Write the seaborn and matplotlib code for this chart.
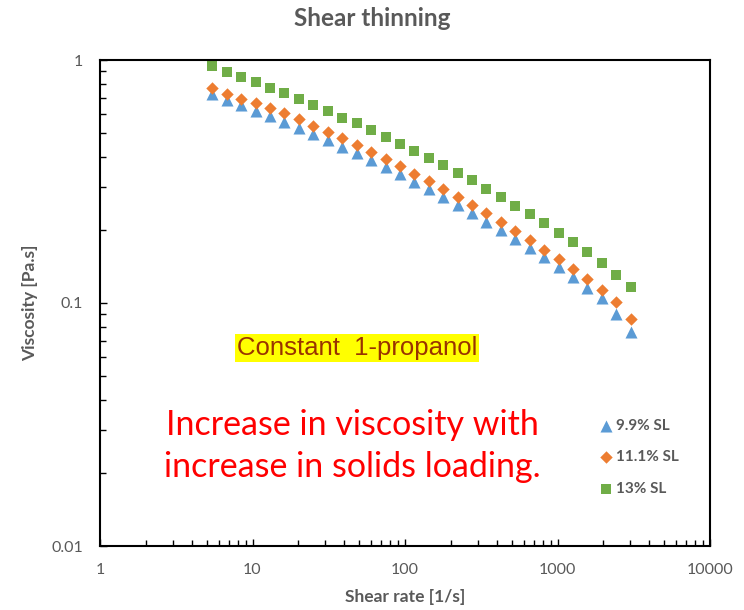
import numpy as np
import pandas as pd
import matplotlib
matplotlib.use("Agg")
import matplotlib.pyplot as plt
import seaborn as sns
from matplotlib.ticker import LogLocator, FixedLocator, NullFormatter

shear_rate = [5.46, 6.79, 8.44, 10.5, 13.0, 16.2, 20.1, 25.1, 31.2, 38.7,
              48.2, 59.8, 74.5, 92.5, 115, 143, 178, 221, 275, 342,
              425, 528, 657, 817, 1016, 1262, 1570, 1950, 2427, 3020]
visc_99 = [0.722, 0.684, 0.653, 0.617, 0.588, 0.557, 0.526, 0.494, 0.469, 0.440,
           0.413, 0.388, 0.364, 0.340, 0.316, 0.294, 0.272, 0.252, 0.234, 0.216,
           0.199, 0.183, 0.168, 0.154, 0.1406, 0.128, 0.1156, 0.1045, 0.0901, 0.0762]
visc_111 = [0.769, 0.727, 0.693, 0.663, 0.633, 0.604, 0.570, 0.535, 0.507, 0.476,
            0.446, 0.419, 0.393, 0.366, 0.340, 0.318, 0.295, 0.274, 0.253, 0.234,
            0.215, 0.198, 0.181, 0.166, 0.152, 0.138, 0.125, 0.1134, 0.101, 0.0862]
visc_13 = [0.945, 0.892, 0.854, 0.810, 0.765, 0.732, 0.693, 0.651, 0.617, 0.579,
           0.549, 0.515, 0.484, 0.450, 0.423, 0.394, 0.369, 0.344, 0.320, 0.295,
           0.273, 0.251, 0.232, 0.213, 0.195, 0.178, 0.162, 0.1465, 0.131, 0.116]
series_labels = ["9.9% SL", "11.1% SL", "13% SL"]
x_ticks = [1, 10, 100, 1000, 10000]
x_tick_labels = ["1", "10", "100", "1000", "10000"]
y_ticks = [0.01, 0.1, 1]
y_tick_labels = ["0.01", "0.1", "1"]

df = pd.concat([
    pd.DataFrame({"rate": shear_rate, "visc": v, "series": lab})
    for v, lab in zip([visc_99, visc_111, visc_13], series_labels)
])

colors = {"9.9% SL": "#5B9BD5", "11.1% SL": "#ED7D31", "13% SL": "#70AD47"}
markers = {"9.9% SL": "^", "11.1% SL": "D", "13% SL": "s"}
sizes = {"9.9% SL": 75, "11.1% SL": 40, "13% SL": 55}

sns.set_style("white")
plt.rcParams['font.family'] = ['Lato', 'DejaVu Sans']
gray = "#595959"

fig = plt.figure(figsize=(7.44, 6.10), dpi=100)
ax = fig.add_axes([100/744, 1 - 546/610, 610/744, 486/610])

for lab in series_labels:
    sub = df[df["series"] == lab]
    sns.scatterplot(data=sub, x="rate", y="visc", ax=ax, color=colors[lab],
                    marker=markers[lab], s=sizes[lab], linewidth=0, label=lab,
                    legend=False)

ax.set_xscale("log")
ax.set_yscale("log")
ax.set_xlim(1, 10000)
ax.set_ylim(0.01, 1)
ax.xaxis.set_major_locator(FixedLocator(x_ticks))
ax.set_xticklabels(x_tick_labels)
ax.yaxis.set_major_locator(FixedLocator(y_ticks))
ax.set_yticklabels(y_tick_labels)
ax.xaxis.set_minor_locator(LogLocator(base=10, subs=np.arange(2, 10)))
ax.yaxis.set_minor_locator(LogLocator(base=10, subs=np.arange(2, 10)))
ax.xaxis.set_minor_formatter(NullFormatter())
ax.yaxis.set_minor_formatter(NullFormatter())
ax.tick_params(which="both", direction="in", bottom=True, left=True, top=False, right=False,
               color="black", width=1.0)
ax.tick_params(which="major", length=5, labelsize=11.5, labelcolor=gray, pad=12)
ax.tick_params(which="minor", length=4)
for sp in ax.spines.values():
    sp.set_color("black")
    sp.set_linewidth(1.5)

ax.set_xlabel("Shear rate [1/s]", fontsize=12.5, fontweight="bold", color=gray, labelpad=9)
ax.set_ylabel("Viscosity [Pa.s]", fontsize=12.5, fontweight="bold", color=gray, labelpad=10)
fig.text(0.5, 1 - 19/610, "Shear thinning", ha="center", va="center",
         fontsize=17.5, fontweight="bold", color=gray)

fig.text(357/744, 1 - 348/610, "Constant  1-propanol", ha="center", va="center",
         fontsize=18.5, color="#993300", family=["Liberation Sans", "DejaVu Sans"],
         bbox=dict(facecolor="#FFFF00", edgecolor="none", pad=1.5))
fig.text(352/744, 1 - 446/610, "Increase in viscosity with\nincrease in solids loading.",
         ha="center", va="center", fontsize=24.5, color="#FF0000", linespacing=1.4)

leg = ax.legend(loc="upper left", bbox_to_anchor=((585 - 100)/610, (546 - 405)/486),
                frameon=False, handletextpad=0.15, labelspacing=1.15, handlelength=1.0,
                prop={"size": 11, "weight": "bold"})
for t in leg.get_texts():
    t.set_color(gray)

fig.savefig("out.png", dpi=100)
